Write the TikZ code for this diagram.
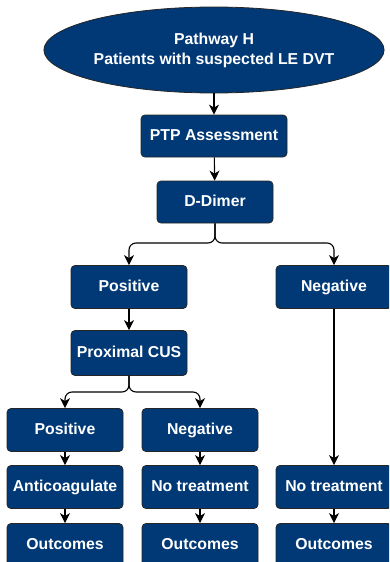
\documentclass[tikz,border=0pt]{standalone}
\usepackage{fontspec}
\setmainfont{Liberation Sans}
\usetikzlibrary{shapes.geometric, arrows.meta}
\definecolor{pathblue}{RGB}{0,57,118}

\begin{document}
\begin{tikzpicture}[x=1pt, y=-1pt,
  box/.style={draw=black!85, line width=0.8pt, fill=pathblue, rounded corners=4pt,
    text=white, font=\bfseries\fontsize{15.8}{19}\selectfont,
    text height=11.5pt, text depth=3pt,
    minimum width=116pt, minimum height=43pt, inner sep=0pt},
  flow/.style={-{Stealth[length=10pt, width=10pt, inset=3pt]}, line width=1.1pt, rounded corners=7pt}]
  \clip (0,0) rectangle (389,562);

  % start
  \node[ellipse, draw=black!85, line width=0.8pt, fill=pathblue, text=white,
    font=\bfseries\fontsize{15.8}{20}\selectfont, align=center,
    minimum width=292pt, minimum height=86pt, inner sep=0pt]
    (start) at (214,50) {Pathway H\\Patients with suspected LE DVT};

  \node[box, minimum width=146pt, minimum height=42pt] (ptp) at (214,136) {PTP Assessment};
  \node[box, minimum height=42pt] (dimer) at (215,202) {D-Dimer};

  \node[box] (pos) at (129,287) {Positive};
  \node[box] (neg) at (334,287) {Negative};
  \node[box, minimum height=45pt] (cus) at (129,353) {Proximal CUS};

  \node[box] (pos2) at (65,430) {Positive};
  \node[box] (neg2) at (200,430) {Negative};

  \node[box] (anti) at (65,487) {Anticoagulate};
  \node[box] (notreat) at (200,487) {No treatment};
  \node[box] (notreat2) at (334,487) {No treatment};

  \node[box] (out1) at (65,545) {Outcomes};
  \node[box] (out2) at (200,545) {Outcomes};
  \node[box] (out3) at (334,545) {Outcomes};

  \coordinate (split1) at (215,243);
  \coordinate (split2) at (129,392);

  % connectors
  \draw[flow] (start) -- (ptp);
  \draw[flow] (ptp) -- (dimer);
  \draw[flow] (dimer.south) -- (split1) -| (pos.north);
  \draw[flow] (dimer.south) -- (split1) -| (neg.north);
  \draw[flow] (pos) -- (cus);
  \draw[flow] (cus.south) -- (split2) -| (pos2.north);
  \draw[flow] (cus.south) -- (split2) -| (neg2.north);
  \draw[flow] (neg) -- (notreat2);
  \draw[flow] (pos2) -- (anti);
  \draw[flow] (neg2) -- (notreat);
  \draw[flow] (anti) -- (out1);
  \draw[flow] (notreat) -- (out2);
  \draw[flow] (notreat2) -- (out3);
\end{tikzpicture}
\end{document}
